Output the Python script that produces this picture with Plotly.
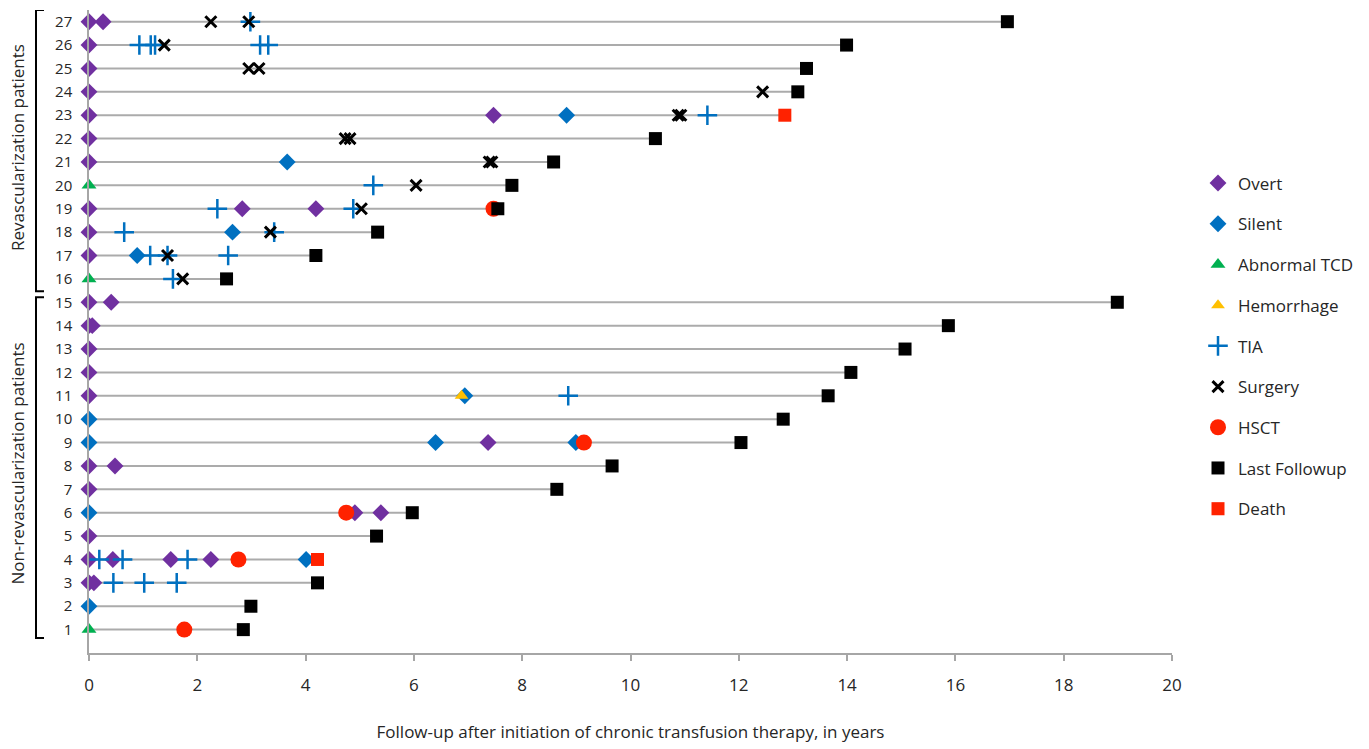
import plotly.graph_objects as go

# ---------------- data (patient number, years) ----------------
overt_pt = [27, 26, 25, 24, 23, 22, 21, 19, 18, 17, 15, 14, 13, 12, 11, 8, 7, 5, 4, 3,
            27, 23, 19, 19, 15, 14, 9, 8, 6, 6, 4, 4, 4, 3]
overt_t = [0] * 20 + [0.26, 7.47, 2.83, 4.19, 0.41, 0.06, 7.37, 0.48, 4.91, 5.39, 0.44, 1.51, 2.25, 0.09]

silent_pt = [10, 9, 6, 2, 23, 21, 18, 17, 11, 9, 9, 4]
silent_t = [0, 0, 0, 0, 8.82, 3.66, 2.65, 0.89, 6.94, 6.40, 8.99, 4.01]

tcd_pt = [20, 16, 1]
tcd_t = [0, 0, 0]

hemorrhage_pt = [11]
hemorrhage_t = [6.88]

tia_pt = [27, 26, 26, 26, 26, 26, 23, 20, 19, 19, 18, 18, 17, 17, 17, 16, 11, 4, 4, 4, 3, 3, 3]
tia_t = [2.98, 0.93, 1.14, 1.22, 3.16, 3.31, 11.42, 5.25, 2.37, 4.88, 0.65, 3.42, 1.13, 1.45, 2.57,
         1.55, 8.85, 0.19, 0.62, 1.82, 0.45, 1.02, 1.62]

surgery_pt = [27, 27, 26, 25, 25, 24, 23, 23, 22, 22, 21, 21, 20, 19, 18, 17, 16]
surgery_t = [2.25, 2.95, 1.39, 2.95, 3.14, 12.44, 10.88, 10.93, 4.73, 4.82, 7.39, 7.44, 6.04, 5.03,
             3.35, 1.45, 1.73]

hsct_pt = [19, 9, 6, 4, 1]
hsct_t = [7.47, 9.14, 4.75, 2.76, 1.76]

lastfu_pt = [27, 26, 25, 24, 22, 21, 20, 19, 18, 17, 16, 15, 14, 13, 12, 11, 10, 9, 8, 7, 6, 5, 3, 2, 1]
lastfu_t = [16.96, 13.99, 13.25, 13.09, 10.46, 8.58, 7.81, 7.55, 5.33, 4.19, 2.54, 18.99, 15.87,
            15.07, 14.07, 13.65, 12.82, 12.04, 9.66, 8.64, 5.97, 5.31, 4.22, 2.99, 2.85]

death_pt = [23, 4]
death_t = [12.85, 4.22]

patients = list(range(1, 28))
x_ticks = list(range(0, 21, 2))

# ---------------- figure ----------------
FONT = "Open Sans"
fig = go.Figure()

# follow-up lines, from 0 to the end of follow-up (last follow-up or death)
end_time = {}
for p, t in zip(lastfu_pt + death_pt, lastfu_t + death_t):
    end_time[p] = max(end_time.get(p, 0), t)
lx, ly = [], []
for p in patients:
    lx += [0, end_time[p], None]
    ly += [p, p, None]
fig.add_trace(go.Scatter(x=lx, y=ly, mode="lines", line=dict(color="#ABABAB", width=2),
                         showlegend=False, hoverinfo="skip"))

series = [
    ("Overt", overt_pt, overt_t, dict(symbol="diamond", size=13, color="#7030A0")),
    ("Silent", silent_pt, silent_t, dict(symbol="diamond", size=13, color="#0070C0")),
    ("Abnormal TCD", tcd_pt, tcd_t, dict(symbol="triangle-up", size=13, color="#00B050")),
    ("Hemorrhage", hemorrhage_pt, hemorrhage_t, dict(symbol="triangle-up", size=12, color="#FFC000")),
    ("TIA", tia_pt, tia_t, dict(symbol="cross-thin", size=14, color="#0070C0",
                                line=dict(color="#0070C0", width=2.5))),
    ("Surgery", surgery_pt, surgery_t, dict(symbol="x-thin", size=11, color="#000000",
                                            line=dict(color="#000000", width=3))),
    ("HSCT", hsct_pt, hsct_t, dict(symbol="circle", size=16, color="#FF2200")),
    ("Last Followup", lastfu_pt, lastfu_t, dict(symbol="square", size=13, color="#000000")),
    ("Death", death_pt, death_t, dict(symbol="square", size=13, color="#FF2200")),
]
for name, pts, ts, mk in series:
    fig.add_trace(go.Scatter(x=ts, y=pts, mode="markers", name=name, marker=mk,
                             cliponaxis=False, legendgroup=name))

AX = "#A6A6A6"
fig.update_xaxes(range=[0, 20], tickvals=x_ticks, showgrid=False, zeroline=False,
                 showline=True, linecolor=AX, linewidth=1.5,
                 ticks="outside", ticklen=6, tickcolor=AX, tickwidth=1.5,
                 ticklabelstandoff=10,
                 tickfont=dict(family=FONT, size=17, color="#262626"),
                 title=dict(text="Follow-up after initiation of chronic transfusion therapy, in years",
                            font=dict(family=FONT, size=17, color="#262626"), standoff=31))
fig.update_yaxes(range=[0, 27.5], tickvals=patients, showgrid=False, zeroline=False,
                 showline=True, linecolor=AX, linewidth=1.5, ticks="",
                 ticklabelstandoff=12,
                 tickfont=dict(family=FONT, size=15, color="#262626"))

W_PLOT = 1083.0
def px_to_paper(px):
    return (px - 89) / W_PLOT

xb0 = px_to_paper(36)
xb1 = px_to_paper(44)
shapes = [
    dict(type="path", xref="paper", yref="y",
         path=f"M {xb1},27.5 L {xb0},27.5 L {xb0},15.47 L {xb1},15.47",
         line=dict(color="#000000", width=2)),
    dict(type="path", xref="paper", yref="y",
         path=f"M {xb1},15.22 L {xb0},15.22 L {xb0},0.64 L {xb1},0.64",
         line=dict(color="#000000", width=2)),
]
annotations = [
    dict(text="Revascularization patients", xref="paper", yref="y", x=px_to_paper(18), y=21.6,
         xanchor="center", yanchor="middle",
         textangle=-90, showarrow=False, font=dict(family=FONT, size=17, color="#262626")),
    dict(text="Non-revascularization patients", xref="paper", yref="y", x=px_to_paper(18), y=8.1,
         xanchor="center", yanchor="middle",
         textangle=-90, showarrow=False, font=dict(family=FONT, size=17, color="#262626")),
]

fig.update_layout(
    width=1369, height=749,
    margin=dict(l=89, r=197, t=10, b=94),
    plot_bgcolor="white", paper_bgcolor="white",
    shapes=shapes, annotations=annotations,
    legend=dict(x=px_to_paper(1198), y=(655 - 166) / 645.0, xanchor="left", yanchor="top",
                font=dict(family=FONT, size=17, color="#262626"),
                tracegroupgap=15.6, itemwidth=30, bgcolor="rgba(0,0,0,0)"),
    showlegend=True,
)

fig.write_html("out.html", config={"displayModeBar": False},
               post_script="document.body.style.margin='0';document.body.style.overflow='hidden';")
